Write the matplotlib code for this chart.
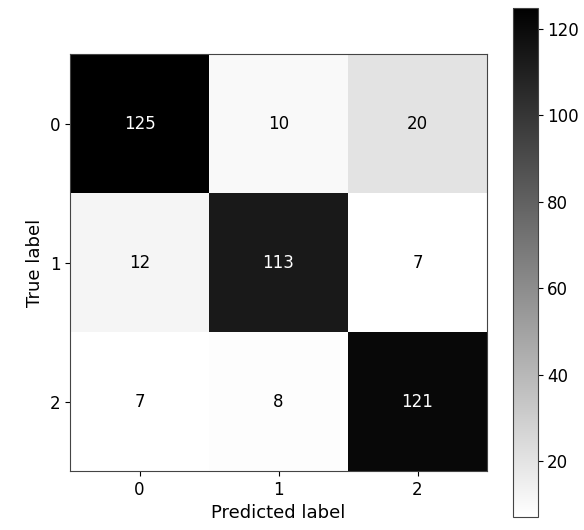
import numpy as np
import matplotlib
matplotlib.use("Agg")
import matplotlib.pyplot as plt

# Confusion matrix counts (rows: true label, columns: predicted label)
class_labels = ["0", "1", "2"]
confusion = np.array([
    [125, 10, 20],
    [12, 113, 7],
    [7, 8, 121],
])

W, H = 584, 530
fig = plt.figure(figsize=(W / 100, H / 100), dpi=100)

def px_axes(x0, y0, x1, y1):
    return fig.add_axes([x0 / W, 1 - y1 / H, (x1 - x0) / W, (y1 - y0) / H])

ax = px_axes(70, 54, 487, 471)
cax = px_axes(512.5, 7.5, 537.5, 517)

cmap = plt.get_cmap("binary")
vmin, vmax = confusion.min(), confusion.max()
im = ax.imshow(confusion, cmap=cmap, vmin=vmin, vmax=vmax, interpolation="nearest")

thresh = (vmax + vmin) / 2.0
fs_small = 12
fs_label = 13
for i in range(confusion.shape[0]):
    for j in range(confusion.shape[1]):
        val = confusion[i, j]
        color = cmap(0.0) if val >= thresh else cmap(1.0)
        ax.text(j, i, f"{val}", ha="center", va="center", color=color, fontsize=fs_small)

ax.set_xticks(range(len(class_labels)))
ax.set_yticks(range(len(class_labels)))
ax.set_xticklabels(class_labels, fontsize=fs_small)
ax.set_yticklabels(class_labels, fontsize=fs_small)
ax.set_xlabel("Predicted label", fontsize=fs_label)
ax.set_ylabel("True label", fontsize=fs_label)
for s in ax.spines.values():
    s.set_color("#444444")

cb = fig.colorbar(im, cax=cax)
cb.ax.tick_params(labelsize=fs_small)
cb.outline.set_edgecolor("#444444")

fig.savefig("out.png", dpi=100)
